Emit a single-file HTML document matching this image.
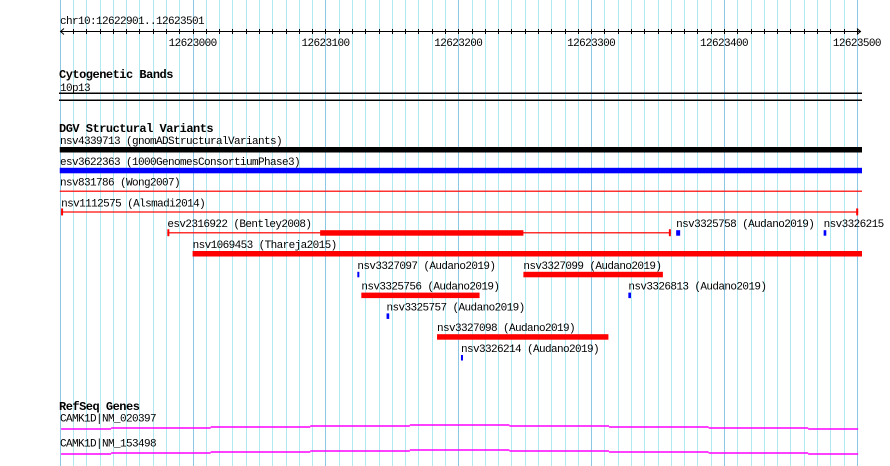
<!DOCTYPE html>
<html><head><meta charset="utf-8"><style>
html,body{margin:0;padding:0;background:#fff;}
svg{display:block;}
text{font-family:"Liberation Mono",monospace;fill:#000;}
.lbl{font-size:11px;letter-spacing:-0.6px;}
.ttl{font-size:12px;font-weight:bold;letter-spacing:-0.5px;}
</style></head><body>
<svg id="chart" width="890" height="466" xmlns="http://www.w3.org/2000/svg">
<g id="grid"></g>
<g id="ruler"></g>
<text class="lbl" x="60" y="24">chr10:12622901..12623501</text>
<text class="ttl" x="59" y="78">Cytogenetic Bands</text>
<text class="lbl" x="60" y="91">10p13</text>
<rect x="59" y="92.5" width="803" height="1.5" fill="#000"/>
<rect x="59" y="99.5" width="803" height="1.5" fill="#000"/>
<text class="ttl" x="59" y="132">DGV Structural Variants</text>
<g id="features"></g>
<text class="ttl" x="59" y="410">RefSeq Genes</text>
<g id="genes"></g>
</svg>
<script>
const regionStart = 12622900;
const regionEnd = 12623504;
const majorTicks = [12623000, 12623100, 12623200, 12623300, 12623400, 12623500];
const majorTickLabels = ["12623000","12623100","12623200","12623300","12623400","12623500"];
const featLabels = ["nsv4339713 (gnomADStructuralVariants)","esv3622363 (1000GenomesConsortiumPhase3)","nsv831786 (Wong2007)","nsv1112575 (Alsmadi2014)","esv2316922 (Bentley2008)","nsv3325758 (Audano2019)","nsv3326215 (Audano2019)","nsv1069453 (Thareja2015)","nsv3327097 (Audano2019)","nsv3327099 (Audano2019)","nsv3325756 (Audano2019)","nsv3326813 (Audano2019)","nsv3325757 (Audano2019)","nsv3327098 (Audano2019)","nsv3326214 (Audano2019)"];
const featStarts = [12622900,12622900,12622900,12622901,12622981,12623364,12623475,12623000,12623124,12623249,12623127,12623328,12623146,12623184,12623202];
const featEnds = [12623504,12623504,12623504,12623501,12623360,12623367,12623477,12623504,12623125,12623354,12623216,12623330,12623148,12623313,12623203];
const featThickStarts = [0,0,0,0,12623096,0,0,0,0,0,0,0,0,0,0];
const featThickEnds = [0,0,0,0,12623249,0,0,0,0,0,0,0,0,0,0];
const featKinds = ["bar","bar","line","capped","split","bar","bar","bar","bar","bar","bar","bar","bar","bar","bar"];
const featColors = ["#000","#0000ff","#ff0000","#ff0000","#ff0000","#0000ff","#0000ff","#ff0000","#0000ff","#ff0000","#ff0000","#0000ff","#0000ff","#ff0000","#0000ff"];
const featRows = [0,1,2,3,4,4,4,5,6,6,7,7,8,9,10];
const geneLabels = ["CAMK1D|NM_020397","CAMK1D|NM_153498"];
const geneStarts = [12622901, 12622901];
const geneEnds = [12623501, 12623501];

const NS = "http://www.w3.org/2000/svg";
const X0 = 192.6, SCALE = 1.3285;
function xs(bp){ return X0 + (bp - 12623000) * SCALE; }
function clampX(x){ return Math.max(59, Math.min(862, x)); }
function mk(tag, attrs, parent){ const e = document.createElementNS(NS, tag); for (const k in attrs) e.setAttribute(k, attrs[k]); parent.appendChild(e); return e; }

const grid = document.getElementById('grid');
for (let bp = regionStart; bp <= regionEnd; bp += 10) {
  const x = Math.round(xs(bp)) + 0.5;
  const major = (bp % 100 === 0);
  const l = mk('line', {x1:x, x2:x, y1:0, y2:466, stroke: major ? '#8cc8e6' : '#b0eaf0', 'stroke-width':1}, grid);
  
  
}
const ruler = document.getElementById('ruler');
const axis = mk('line', {x1:60, x2:861, y1:31.5, y2:31.5, stroke:'#000', 'stroke-width':1}, ruler);


const arrows = mk('path', {d:'M64,28.5 L60.5,31.5 L64,34.5 M857,28.5 L860.5,31.5 L857,34.5', stroke:'#000', fill:'none', 'stroke-width':1}, ruler);


for (let bp = regionStart + 10; bp < regionEnd; bp += 10) {
  const x = Math.round(xs(bp)) + 0.5;
  const t = mk('line', {x1:x, x2:x, y1:29, y2:34, stroke:'#000', 'stroke-width':1}, ruler);
  
  
}
majorTicks.forEach((bp, i) => {
  const t = mk('text', {x: xs(bp), y: 46, 'text-anchor':'middle', class:'lbl'}, ruler);
  t.textContent = majorTickLabels[i];
  
  
});
const fg = document.getElementById('features');
featLabels.forEach((lab, i) => {
  const rowY = 149.5 + featRows[i] * 20.8;
  const g = mk('g', {}, fg);
  
  
  const x1 = clampX(xs(featStarts[i])), x2 = clampX(xs(featEnds[i]));
  const t = mk('text', {x: Math.max(60, x1), y: rowY - 5.5, class:'lbl'}, g);
  t.textContent = lab;
  
  
  const c = featColors[i], k = featKinds[i];
  const w = Math.max(2, x2 - x1);
  if (k === 'bar') {
    const r = mk('rect', {x:x1, y:rowY - 2.5, width:w, height:5.5, fill:c}, g);
    
    
  } else {
    const ln = mk('rect', {x:x1, y:rowY - 0.5, width:x2 - x1, height:1.2, fill:c}, g);
    
    
    if (k === 'capped' || k === 'split') {
      [x1, x2 - 2].forEach(cx => {
        const cp = mk('rect', {x:cx, y:rowY - 3.5, width:2, height:7, fill:c}, g);
        
        
      });
    }
    if (k === 'split') {
      const a = xs(featThickStarts[i]), b = xs(featThickEnds[i]);
      const th = mk('rect', {x:a, y:rowY - 2.5, width:b - a, height:5.5, fill:c}, g);
      
      
    }
  }
});
const gg = document.getElementById('genes');
const steps = [4, 3, 2, 1, 0, 1, 2, 3, 4];
geneLabels.forEach((lab, i) => {
  const base = 425 + i * 25;
  const g = mk('g', {}, gg);
  
  
  const t = mk('text', {x:60, y: base - 3.5, class:'lbl'}, g);
  t.textContent = lab;
  
  
  const x1 = clampX(xs(geneStarts[i])), x2 = clampX(xs(geneEnds[i]));
  const segW = (x2 - x1 - 100) / 7;
  let d = '';
  for (let s = 0; s < 9; s++) {
    const sx = s === 0 ? x1 : x1 + 50 + (s - 1) * segW;
    const ex = s === 0 ? x1 + 50 : (s === 8 ? x2 : x1 + 50 + s * segW);
    const y = base + steps[s];
    d += 'M' + sx + ',' + y + ' L' + ex + ',' + y + ' ';
  }
  const p = mk('path', {d:d, stroke:'#ff00ff', 'stroke-width':1.5, fill:'none'}, g);
  
  
});
</script>
</body></html>
